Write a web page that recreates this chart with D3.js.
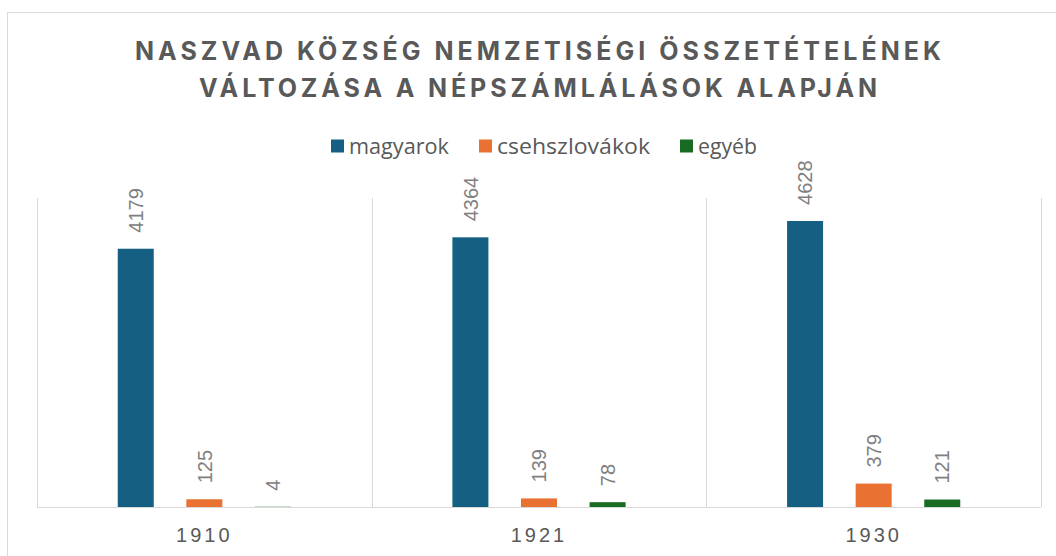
<!DOCTYPE html>
<html>
<head>
<meta charset="utf-8">
<script src="https://cdn.jsdelivr.net/npm/d3@7"></script>
<style>
  html, body { margin: 0; padding: 0; background: #fff; }
  svg { display: block; }
</style>
</head>
<body>
<svg id="chart" width="1056" height="556"></svg>
<script>
const titleLines = ["NASZVAD KÖZSÉG NEMZETISÉGI ÖSSZETÉTELÉNEK", "VÁLTOZÁSA A NÉPSZÁMLÁLÁSOK ALAPJÁN"];
const years = ["1910", "1921", "1930"];
const seriesNames = ["magyarok", "csehszlovákok", "egyéb"];
const magyarok = [4179, 4364, 4628];
const csehszlovakok = [125, 139, 379];
const egyeb = [4, 78, 121];
const seriesColors = ["#156082", "#E97132", "#196B24"];
const yMax = 5000;

const seriesValues = [magyarok, csehszlovakok, egyeb];
const data = years.map((y, i) => ({
  year: y,
  values: seriesNames.map((s, j) => ({ series: s, idx: j, value: seriesValues[j][i] }))
}));

const svg = d3.select("#chart");
const plot = { left: 37, right: 1041, top: 198, bottom: 507 };

// outer border
svg.append("rect").attr("x", 7.5).attr("y", 12.5).attr("width", 1060).attr("height", 560)
  .attr("fill", "#fff").attr("stroke", "#d9d9d9").attr("stroke-width", 1);

// title
const title = svg.append("g");
const titleY = [60, 97];
const titleLen = [806, 678];
titleLines.forEach((t, i) => {
  title.append("text")
    .attr("x", 538).attr("y", titleY[i])
    .attr("text-anchor", "middle")
    .attr("font-family", "Inter, 'Open Sans', sans-serif")
    .attr("font-weight", 700)
    .attr("font-size", 25)
    .attr("fill", "#595959")
    .attr("textLength", titleLen[i])
    .attr("lengthAdjust", "spacing")
    .text(t);
});

// scales
const x0 = d3.scaleBand().domain(years).range([plot.left, plot.right]).paddingInner(0).paddingOuter(0);
const bw = x0.bandwidth();
const groupW = 173.2;
const x1 = d3.scaleBand().domain(seriesNames)
  .range([(bw - groupW) / 2, (bw + groupW) / 2]).paddingInner(0.475).paddingOuter(0);
const y = d3.scaleLinear().domain([0, yMax]).range([plot.bottom, plot.top]);
const color = d3.scaleOrdinal().domain(seriesNames).range(seriesColors);

// vertical category separators
const sepX = years.map(d => x0(d)).concat([x0(years[years.length - 1]) + bw]);
svg.append("g").selectAll("line").data(sepX).join("line")
  .attr("x1", d => Math.round(d) + 0.5).attr("x2", d => Math.round(d) + 0.5)
  .attr("y1", plot.top).attr("y2", plot.bottom)
  .attr("stroke", "#d9d9d9").attr("stroke-width", 1);

// bars
const groups = svg.append("g").selectAll("g").data(data).join("g")
  .attr("transform", d => `translate(${x0(d.year)},0)`);
groups.selectAll("rect").data(d => d.values).join("rect")
  .attr("x", d => x1(d.series))
  .attr("width", x1.bandwidth())
  .attr("y", d => y(d.value))
  .attr("height", d => y(0) - y(d.value))
  .attr("fill", d => color(d.series));

// value labels
groups.selectAll("text").data(d => d.values).join("text")
  .attr("transform", d => `translate(${x1(d.series) + x1.bandwidth() / 2},${y(d.value) - 16}) rotate(-90)`)
  .attr("dy", "0.36em")
  .attr("text-anchor", "start")
  .attr("font-family", "'Liberation Sans', Arial, sans-serif")
  .attr("font-size", 20)
  .attr("fill", "#808080")
  .text(d => d.value);

// x axis
const xAxis = d3.axisBottom(x0).tickSize(0).tickPadding(0);
const axG = svg.append("g").attr("transform", `translate(0,${plot.bottom})`).call(xAxis);
axG.select(".domain").attr("d", `M${plot.left},0.5H${plot.right}`).attr("stroke", "#d9d9d9").attr("stroke-width", 1);
axG.selectAll(".tick text")
  .attr("y", 35).attr("dy", 0)
  .attr("font-family", "'Liberation Sans', Arial, sans-serif")
  .attr("font-size", 20)
  .attr("letter-spacing", "3px")
  .attr("fill", "#595959");

// legend
const legend = svg.append("g");
const legendTextLen = [100, 153, 59];
const items = [];
seriesNames.forEach((s, i) => {
  const g = legend.append("g");
  g.append("rect").attr("x", 0).attr("y", -7).attr("width", 13).attr("height", 13).attr("fill", seriesColors[i]);
  g.append("text").attr("x", 18).attr("y", 7)
    .attr("font-family", "'Open Sans', sans-serif").attr("font-size", 21).attr("fill", "#595959")
    .attr("textLength", legendTextLen[i]).attr("lengthAdjust", "spacingAndGlyphs")
    .text(s);
  items.push({ g, w: 18 + legendTextLen[i] });
});
const gap = 30;
let cx = 331;
items.forEach(it => { it.g.attr("transform", `translate(${cx},146.5)`); cx += it.w + gap; });
</script>
</body>
</html>
